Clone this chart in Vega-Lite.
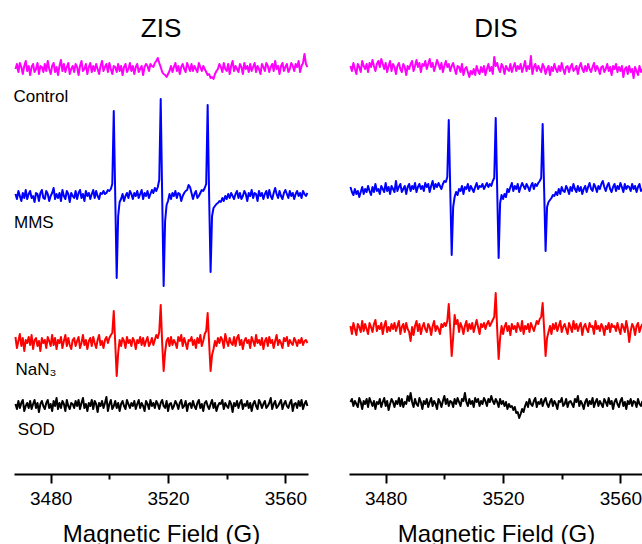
{
"$schema": "https://vega.github.io/schema/vega-lite/v6.json",
"background": "white",
"padding": {"left": 13, "top": 16, "right": 0, "bottom": 0},
"spacing": 40,
"config": {"view": {"stroke": null}, "font": "Liberation Sans",
 "axisX": {"domainColor": "black", "domainWidth": 2, "tickColor": "black", "tickWidth": 2, "grid": false,
  "labelFontSize": 19, "labelColor": "black", "labelFont": "Liberation Sans", "labelPadding": 6, "labelFlush": false, "labelOverlap": false,
  "titleFontSize": 24, "titleFontWeight": "normal", "titleColor": "black", "titleFont": "Liberation Sans", "titlePadding": 14},
 "title": {"fontSize": 26, "fontWeight": "normal", "color": "black", "font": "Liberation Sans", "anchor": "middle", "offset": 4}
},
"datasets": {
"labels": [
{"label":"Control","x":3467.3,"signal":377},
{"label":"MMS","x":3467.5,"signal":251},
{"label":"NaN₃","x":3468,"signal":104},
{"label":"SOD","x":3468.8,"signal":44}
],
"zis": [
{"x":3468,"ctrl":405,"mms":280,"nan3":137,"sod":70},
{"x":3468.5,"ctrl":410,"mms":275,"nan3":126,"sod":65},
{"x":3469,"ctrl":402,"mms":283,"nan3":133,"sod":73},
{"x":3469.5,"ctrl":411,"mms":278,"nan3":140,"sod":66},
{"x":3470,"ctrl":407,"mms":273,"nan3":128,"sod":71},
{"x":3470.5,"ctrl":400,"mms":281,"nan3":136,"sod":74},
{"x":3471,"ctrl":408,"mms":276,"nan3":123,"sod":63},
{"x":3471.5,"ctrl":413,"mms":284,"nan3":134,"sod":68},
{"x":3472,"ctrl":403,"mms":275,"nan3":131,"sod":71},
{"x":3472.5,"ctrl":408,"mms":280,"nan3":137,"sod":66},
{"x":3473,"ctrl":399,"mms":283,"nan3":129,"sod":73},
{"x":3473.5,"ctrl":407,"mms":276,"nan3":139,"sod":65},
{"x":3474,"ctrl":410,"mms":278,"nan3":125,"sod":70},
{"x":3474.5,"ctrl":402,"mms":272,"nan3":134,"sod":74},
{"x":3475,"ctrl":405,"mms":281,"nan3":136,"sod":66},
{"x":3475.5,"ctrl":411,"mms":280,"nan3":128,"sod":71},
{"x":3476,"ctrl":400,"mms":273,"nan3":133,"sod":62},
{"x":3476.5,"ctrl":408,"mms":281,"nan3":123,"sod":70},
{"x":3477,"ctrl":407,"mms":284,"nan3":136,"sod":73},
{"x":3477.5,"ctrl":402,"mms":276,"nan3":131,"sod":68},
{"x":3478,"ctrl":410,"mms":275,"nan3":134,"sod":65},
{"x":3478.5,"ctrl":403,"mms":283,"nan3":126,"sod":71},
{"x":3479,"ctrl":413,"mms":280,"nan3":137,"sod":74},
{"x":3479.5,"ctrl":405,"mms":273,"nan3":133,"sod":66},
{"x":3480,"ctrl":400,"mms":278,"nan3":128,"sod":70},
{"x":3480.5,"ctrl":408,"mms":281,"nan3":139,"sod":63},
{"x":3481,"ctrl":411,"mms":286,"nan3":129,"sod":73},
{"x":3481.5,"ctrl":402,"mms":275,"nan3":136,"sod":68},
{"x":3482,"ctrl":407,"mms":280,"nan3":125,"sod":76},
{"x":3482.5,"ctrl":399,"mms":276,"nan3":134,"sod":65},
{"x":3483,"ctrl":408,"mms":281,"nan3":131,"sod":71},
{"x":3483.5,"ctrl":414,"mms":273,"nan3":137,"sod":66},
{"x":3484,"ctrl":403,"mms":284,"nan3":126,"sod":73},
{"x":3484.5,"ctrl":410,"mms":278,"nan3":133,"sod":70},
{"x":3485,"ctrl":402,"mms":275,"nan3":139,"sod":63},
{"x":3485.5,"ctrl":407,"mms":283,"nan3":128,"sod":74},
{"x":3486,"ctrl":411,"mms":280,"nan3":136,"sod":68},
{"x":3486.5,"ctrl":400,"mms":272,"nan3":129,"sod":65},
{"x":3487,"ctrl":405,"mms":281,"nan3":125,"sod":71},
{"x":3487.5,"ctrl":408,"mms":278,"nan3":134,"sod":70},
{"x":3488,"ctrl":402,"mms":276,"nan3":136,"sod":66},
{"x":3488.5,"ctrl":410,"mms":283,"nan3":128,"sod":73},
{"x":3489,"ctrl":407,"mms":275,"nan3":133,"sod":68},
{"x":3489.5,"ctrl":399,"mms":281,"nan3":137,"sod":74},
{"x":3490,"ctrl":408,"mms":284,"nan3":126,"sod":65},
{"x":3490.5,"ctrl":413,"mms":276,"nan3":131,"sod":71},
{"x":3491,"ctrl":403,"mms":280,"nan3":139,"sod":76},
{"x":3491.5,"ctrl":405,"mms":273,"nan3":129,"sod":66},
{"x":3492,"ctrl":410,"mms":283,"nan3":134,"sod":70},
{"x":3492.5,"ctrl":400,"mms":278,"nan3":125,"sod":63},
{"x":3493,"ctrl":407,"mms":281,"nan3":133,"sod":71},
{"x":3493.5,"ctrl":411,"mms":275,"nan3":136,"sod":68},
{"x":3494,"ctrl":402,"mms":280,"nan3":128,"sod":74},
{"x":3494.5,"ctrl":408,"mms":284,"nan3":137,"sod":65},
{"x":3495,"ctrl":403,"mms":276,"nan3":131,"sod":73},
{"x":3495.5,"ctrl":410,"mms":283,"nan3":126,"sod":70},
{"x":3496,"ctrl":405,"mms":278,"nan3":134,"sod":62},
{"x":3496.5,"ctrl":400,"mms":275,"nan3":139,"sod":71},
{"x":3497,"ctrl":408,"mms":281,"nan3":129,"sod":68},
{"x":3497.5,"ctrl":413,"mms":280,"nan3":133,"sod":73},
{"x":3498,"ctrl":403,"mms":283,"nan3":126,"sod":66},
{"x":3498.5,"ctrl":407,"mms":280,"nan3":134,"sod":71},
{"x":3499,"ctrl":410,"mms":281,"nan3":137,"sod":77},
{"x":3499.5,"ctrl":402,"mms":284,"nan3":131,"sod":63},
{"x":3500,"ctrl":411,"mms":283,"nan3":136,"sod":70},
{"x":3500.5,"ctrl":405,"mms":285,"nan3":139,"sod":74},
{"x":3501,"ctrl":400,"mms":290,"nan3":141,"sod":65},
{"x":3501.5,"ctrl":408,"mms":363,"nan3":163,"sod":68},
{"x":3502,"ctrl":407,"mms":278,"nan3":131,"sod":73},
{"x":3502.5,"ctrl":402,"mms":196,"nan3":98,"sod":66},
{"x":3503,"ctrl":410,"mms":258,"nan3":121,"sod":71},
{"x":3503.5,"ctrl":403,"mms":272,"nan3":134,"sod":63},
{"x":3504,"ctrl":408,"mms":275,"nan3":128,"sod":70},
{"x":3504.5,"ctrl":399,"mms":280,"nan3":136,"sod":73},
{"x":3505,"ctrl":407,"mms":273,"nan3":133,"sod":68},
{"x":3505.5,"ctrl":410,"mms":278,"nan3":126,"sod":65},
{"x":3506,"ctrl":402,"mms":281,"nan3":137,"sod":74},
{"x":3506.5,"ctrl":405,"mms":276,"nan3":131,"sod":70},
{"x":3507,"ctrl":411,"mms":283,"nan3":134,"sod":66},
{"x":3507.5,"ctrl":403,"mms":280,"nan3":128,"sod":71},
{"x":3508,"ctrl":408,"mms":275,"nan3":136,"sod":68},
{"x":3508.5,"ctrl":400,"mms":281,"nan3":133,"sod":73},
{"x":3509,"ctrl":407,"mms":278,"nan3":125,"sod":65},
{"x":3509.5,"ctrl":410,"mms":283,"nan3":134,"sod":70},
{"x":3510,"ctrl":402,"mms":276,"nan3":131,"sod":74},
{"x":3510.5,"ctrl":405,"mms":280,"nan3":137,"sod":66},
{"x":3511,"ctrl":408,"mms":284,"nan3":129,"sod":71},
{"x":3511.5,"ctrl":399,"mms":275,"nan3":136,"sod":68},
{"x":3512,"ctrl":407,"mms":281,"nan3":128,"sod":63},
{"x":3512.5,"ctrl":410,"mms":278,"nan3":133,"sod":73},
{"x":3513,"ctrl":408,"mms":283,"nan3":137,"sod":70},
{"x":3513.5,"ctrl":403,"mms":276,"nan3":128,"sod":65},
{"x":3514,"ctrl":410,"mms":280,"nan3":131,"sod":74},
{"x":3514.5,"ctrl":408,"mms":284,"nan3":136,"sod":68},
{"x":3515,"ctrl":407,"mms":281,"nan3":129,"sod":71},
{"x":3515.5,"ctrl":411,"mms":286,"nan3":134,"sod":66},
{"x":3516,"ctrl":413,"mms":283,"nan3":139,"sod":73},
{"x":3516.5,"ctrl":416,"mms":287,"nan3":136,"sod":70},
{"x":3517,"ctrl":411,"mms":294,"nan3":142,"sod":65},
{"x":3517.5,"ctrl":407,"mms":375,"nan3":169,"sod":71},
{"x":3518,"ctrl":402,"mms":278,"nan3":131,"sod":74},
{"x":3518.5,"ctrl":400,"mms":188,"nan3":103,"sod":68},
{"x":3519,"ctrl":399,"mms":253,"nan3":122,"sod":66},
{"x":3519.5,"ctrl":397,"mms":269,"nan3":133,"sod":73},
{"x":3520,"ctrl":400,"mms":273,"nan3":136,"sod":63},
{"x":3520.5,"ctrl":403,"mms":280,"nan3":128,"sod":70},
{"x":3521,"ctrl":408,"mms":275,"nan3":137,"sod":71},
{"x":3521.5,"ctrl":402,"mms":281,"nan3":129,"sod":65},
{"x":3522,"ctrl":407,"mms":278,"nan3":134,"sod":68},
{"x":3522.5,"ctrl":411,"mms":283,"nan3":131,"sod":73},
{"x":3523,"ctrl":403,"mms":276,"nan3":126,"sod":70},
{"x":3523.5,"ctrl":408,"mms":281,"nan3":137,"sod":65},
{"x":3524,"ctrl":400,"mms":280,"nan3":133,"sod":71},
{"x":3524.5,"ctrl":407,"mms":273,"nan3":139,"sod":74},
{"x":3525,"ctrl":410,"mms":278,"nan3":128,"sod":66},
{"x":3525.5,"ctrl":405,"mms":281,"nan3":136,"sod":68},
{"x":3526,"ctrl":402,"mms":283,"nan3":131,"sod":73},
{"x":3526.5,"ctrl":411,"mms":284,"nan3":125,"sod":63},
{"x":3527,"ctrl":407,"mms":289,"nan3":134,"sod":70},
{"x":3527.5,"ctrl":403,"mms":287,"nan3":133,"sod":71},
{"x":3528,"ctrl":410,"mms":281,"nan3":137,"sod":66},
{"x":3528.5,"ctrl":403,"mms":275,"nan3":129,"sod":73},
{"x":3529,"ctrl":408,"mms":280,"nan3":134,"sod":68},
{"x":3529.5,"ctrl":405,"mms":283,"nan3":126,"sod":65},
{"x":3530,"ctrl":402,"mms":276,"nan3":136,"sod":71},
{"x":3530.5,"ctrl":411,"mms":278,"nan3":131,"sod":74},
{"x":3531,"ctrl":407,"mms":281,"nan3":139,"sod":66},
{"x":3531.5,"ctrl":403,"mms":284,"nan3":128,"sod":70},
{"x":3532,"ctrl":408,"mms":283,"nan3":133,"sod":63},
{"x":3532.5,"ctrl":405,"mms":286,"nan3":140,"sod":71},
{"x":3533,"ctrl":402,"mms":290,"nan3":143,"sod":73},
{"x":3533.5,"ctrl":399,"mms":369,"nan3":161,"sod":68},
{"x":3534,"ctrl":400,"mms":278,"nan3":131,"sod":65},
{"x":3534.5,"ctrl":396,"mms":202,"nan3":103,"sod":70},
{"x":3535,"ctrl":397,"mms":258,"nan3":119,"sod":74},
{"x":3535.5,"ctrl":395,"mms":266,"nan3":125,"sod":66},
{"x":3536,"ctrl":400,"mms":268,"nan3":133,"sod":71},
{"x":3536.5,"ctrl":403,"mms":270,"nan3":128,"sod":63},
{"x":3537,"ctrl":405,"mms":271,"nan3":136,"sod":68},
{"x":3537.5,"ctrl":410,"mms":273,"nan3":131,"sod":71},
{"x":3538,"ctrl":407,"mms":272,"nan3":137,"sod":70},
{"x":3538.5,"ctrl":402,"mms":276,"nan3":134,"sod":74},
{"x":3539,"ctrl":411,"mms":273,"nan3":126,"sod":65},
{"x":3539.5,"ctrl":405,"mms":278,"nan3":140,"sod":71},
{"x":3540,"ctrl":403,"mms":275,"nan3":133,"sod":68},
{"x":3540.5,"ctrl":410,"mms":280,"nan3":128,"sod":66},
{"x":3541,"ctrl":400,"mms":276,"nan3":136,"sod":73},
{"x":3541.5,"ctrl":408,"mms":281,"nan3":131,"sod":70},
{"x":3542,"ctrl":413,"mms":278,"nan3":129,"sod":62},
{"x":3542.5,"ctrl":403,"mms":275,"nan3":137,"sod":71},
{"x":3543,"ctrl":408,"mms":280,"nan3":128,"sod":68},
{"x":3543.5,"ctrl":405,"mms":283,"nan3":136,"sod":73},
{"x":3544,"ctrl":402,"mms":276,"nan3":139,"sod":66},
{"x":3544.5,"ctrl":410,"mms":281,"nan3":129,"sod":71},
{"x":3545,"ctrl":407,"mms":275,"nan3":134,"sod":74},
{"x":3545.5,"ctrl":400,"mms":278,"nan3":125,"sod":65},
{"x":3546,"ctrl":411,"mms":283,"nan3":133,"sod":70},
{"x":3546.5,"ctrl":405,"mms":280,"nan3":136,"sod":68},
{"x":3547,"ctrl":408,"mms":273,"nan3":131,"sod":73},
{"x":3547.5,"ctrl":402,"mms":281,"nan3":134,"sod":66},
{"x":3548,"ctrl":410,"mms":278,"nan3":126,"sod":71},
{"x":3548.5,"ctrl":403,"mms":284,"nan3":137,"sod":63},
{"x":3549,"ctrl":407,"mms":276,"nan3":133,"sod":70},
{"x":3549.5,"ctrl":411,"mms":281,"nan3":128,"sod":73},
{"x":3550,"ctrl":402,"mms":280,"nan3":139,"sod":68},
{"x":3550.5,"ctrl":408,"mms":273,"nan3":131,"sod":65},
{"x":3551,"ctrl":405,"mms":283,"nan3":134,"sod":74},
{"x":3551.5,"ctrl":400,"mms":278,"nan3":129,"sod":71},
{"x":3552,"ctrl":410,"mms":281,"nan3":136,"sod":66},
{"x":3552.5,"ctrl":407,"mms":275,"nan3":125,"sod":70},
{"x":3553,"ctrl":403,"mms":280,"nan3":133,"sod":73},
{"x":3553.5,"ctrl":411,"mms":283,"nan3":136,"sod":66},
{"x":3554,"ctrl":408,"mms":276,"nan3":128,"sod":68},
{"x":3554.5,"ctrl":402,"mms":284,"nan3":137,"sod":71},
{"x":3555,"ctrl":407,"mms":278,"nan3":131,"sod":76},
{"x":3555.5,"ctrl":410,"mms":275,"nan3":134,"sod":65},
{"x":3556,"ctrl":403,"mms":281,"nan3":126,"sod":70},
{"x":3556.5,"ctrl":413,"mms":286,"nan3":133,"sod":73},
{"x":3557,"ctrl":405,"mms":280,"nan3":139,"sod":66},
{"x":3557.5,"ctrl":408,"mms":276,"nan3":129,"sod":68},
{"x":3558,"ctrl":400,"mms":283,"nan3":134,"sod":71},
{"x":3558.5,"ctrl":408,"mms":278,"nan3":131,"sod":74},
{"x":3559,"ctrl":411,"mms":275,"nan3":126,"sod":65},
{"x":3559.5,"ctrl":403,"mms":281,"nan3":136,"sod":70},
{"x":3560,"ctrl":407,"mms":284,"nan3":133,"sod":73},
{"x":3560.5,"ctrl":410,"mms":280,"nan3":137,"sod":68},
{"x":3561,"ctrl":402,"mms":276,"nan3":128,"sod":66},
{"x":3561.5,"ctrl":405,"mms":283,"nan3":134,"sod":71},
{"x":3562,"ctrl":411,"mms":278,"nan3":131,"sod":74},
{"x":3562.5,"ctrl":408,"mms":281,"nan3":129,"sod":63},
{"x":3563,"ctrl":403,"mms":275,"nan3":136,"sod":70},
{"x":3563.5,"ctrl":410,"mms":280,"nan3":133,"sod":71},
{"x":3564,"ctrl":407,"mms":283,"nan3":128,"sod":66},
{"x":3564.5,"ctrl":413,"mms":278,"nan3":134,"sod":73},
{"x":3565,"ctrl":402,"mms":281,"nan3":131,"sod":68},
{"x":3565.5,"ctrl":408,"mms":276,"nan3":136,"sod":74},
{"x":3566,"ctrl":411,"mms":283,"nan3":129,"sod":65},
{"x":3566.5,"ctrl":420,"mms":280,"nan3":133,"sod":70},
{"x":3567,"ctrl":410,"mms":278,"nan3":134,"sod":73},
{"x":3567.5,"ctrl":407,"mms":281,"nan3":131,"sod":68}
],
"dis": [
{"x":3468,"ctrl":408,"mms":287,"nan3":148,"sod":72},
{"x":3468.5,"ctrl":403,"mms":282,"nan3":140,"sod":75},
{"x":3469,"ctrl":411,"mms":279,"nan3":151,"sod":68},
{"x":3469.5,"ctrl":405,"mms":285,"nan3":145,"sod":73},
{"x":3470,"ctrl":400,"mms":280,"nan3":139,"sod":70},
{"x":3470.5,"ctrl":410,"mms":283,"nan3":150,"sod":67},
{"x":3471,"ctrl":407,"mms":277,"nan3":147,"sod":76},
{"x":3471.5,"ctrl":402,"mms":282,"nan3":142,"sod":72},
{"x":3472,"ctrl":413,"mms":287,"nan3":153,"sod":65},
{"x":3472.5,"ctrl":408,"mms":280,"nan3":143,"sod":73},
{"x":3473,"ctrl":405,"mms":285,"nan3":150,"sod":70},
{"x":3473.5,"ctrl":410,"mms":282,"nan3":145,"sod":75},
{"x":3474,"ctrl":402,"mms":288,"nan3":140,"sod":67},
{"x":3474.5,"ctrl":411,"mms":283,"nan3":151,"sod":76},
{"x":3475,"ctrl":407,"mms":279,"nan3":147,"sod":72},
{"x":3475.5,"ctrl":414,"mms":287,"nan3":142,"sod":68},
{"x":3476,"ctrl":408,"mms":282,"nan3":150,"sod":73},
{"x":3476.5,"ctrl":403,"mms":290,"nan3":154,"sod":65},
{"x":3477,"ctrl":410,"mms":283,"nan3":143,"sod":72},
{"x":3477.5,"ctrl":413,"mms":285,"nan3":148,"sod":70},
{"x":3478,"ctrl":407,"mms":280,"nan3":145,"sod":75},
{"x":3478.5,"ctrl":415,"mms":288,"nan3":151,"sod":67},
{"x":3479,"ctrl":410,"mms":285,"nan3":140,"sod":72},
{"x":3479.5,"ctrl":405,"mms":282,"nan3":148,"sod":76},
{"x":3480,"ctrl":411,"mms":291,"nan3":153,"sod":68},
{"x":3480.5,"ctrl":402,"mms":283,"nan3":142,"sod":73},
{"x":3481,"ctrl":408,"mms":287,"nan3":147,"sod":64},
{"x":3481.5,"ctrl":413,"mms":280,"nan3":143,"sod":70},
{"x":3482,"ctrl":403,"mms":288,"nan3":150,"sod":75},
{"x":3482.5,"ctrl":410,"mms":285,"nan3":145,"sod":72},
{"x":3483,"ctrl":407,"mms":282,"nan3":151,"sod":67},
{"x":3483.5,"ctrl":400,"mms":293,"nan3":143,"sod":73},
{"x":3484,"ctrl":408,"mms":283,"nan3":148,"sod":70},
{"x":3484.5,"ctrl":411,"mms":287,"nan3":153,"sod":76},
{"x":3485,"ctrl":405,"mms":290,"nan3":140,"sod":68},
{"x":3485.5,"ctrl":402,"mms":282,"nan3":147,"sod":75},
{"x":3486,"ctrl":410,"mms":285,"nan3":150,"sod":67},
{"x":3486.5,"ctrl":407,"mms":288,"nan3":142,"sod":72},
{"x":3487,"ctrl":399,"mms":280,"nan3":151,"sod":70},
{"x":3487.5,"ctrl":408,"mms":287,"nan3":145,"sod":78},
{"x":3488,"ctrl":405,"mms":290,"nan3":142,"sod":73},
{"x":3488.5,"ctrl":410,"mms":283,"nan3":133,"sod":81},
{"x":3489,"ctrl":413,"mms":288,"nan3":147,"sod":72},
{"x":3489.5,"ctrl":403,"mms":285,"nan3":139,"sod":67},
{"x":3490,"ctrl":408,"mms":291,"nan3":148,"sod":75},
{"x":3490.5,"ctrl":414,"mms":282,"nan3":153,"sod":70},
{"x":3491,"ctrl":407,"mms":287,"nan3":143,"sod":68},
{"x":3491.5,"ctrl":411,"mms":290,"nan3":150,"sod":76},
{"x":3492,"ctrl":402,"mms":285,"nan3":140,"sod":72},
{"x":3492.5,"ctrl":410,"mms":288,"nan3":147,"sod":65},
{"x":3493,"ctrl":408,"mms":283,"nan3":151,"sod":73},
{"x":3493.5,"ctrl":413,"mms":291,"nan3":145,"sod":70},
{"x":3494,"ctrl":405,"mms":287,"nan3":142,"sod":75},
{"x":3494.5,"ctrl":410,"mms":290,"nan3":150,"sod":67},
{"x":3495,"ctrl":415,"mms":282,"nan3":147,"sod":72},
{"x":3495.5,"ctrl":407,"mms":288,"nan3":139,"sod":76},
{"x":3496,"ctrl":411,"mms":293,"nan3":148,"sod":68},
{"x":3496.5,"ctrl":403,"mms":285,"nan3":153,"sod":73},
{"x":3497,"ctrl":408,"mms":290,"nan3":143,"sod":70},
{"x":3497.5,"ctrl":414,"mms":287,"nan3":148,"sod":65},
{"x":3498,"ctrl":410,"mms":291,"nan3":145,"sod":75},
{"x":3498.5,"ctrl":405,"mms":288,"nan3":140,"sod":72},
{"x":3499,"ctrl":411,"mms":285,"nan3":150,"sod":67},
{"x":3499.5,"ctrl":402,"mms":290,"nan3":147,"sod":73},
{"x":3500,"ctrl":408,"mms":293,"nan3":151,"sod":78},
{"x":3500.5,"ctrl":413,"mms":292,"nan3":148,"sod":70},
{"x":3501,"ctrl":407,"mms":297,"nan3":153,"sod":75},
{"x":3501.5,"ctrl":410,"mms":354,"nan3":170,"sod":68},
{"x":3502,"ctrl":403,"mms":285,"nan3":145,"sod":73},
{"x":3502.5,"ctrl":408,"mms":219,"nan3":118,"sod":72},
{"x":3503,"ctrl":411,"mms":267,"nan3":137,"sod":67},
{"x":3503.5,"ctrl":405,"mms":277,"nan3":159,"sod":75},
{"x":3504,"ctrl":400,"mms":282,"nan3":150,"sod":70},
{"x":3504.5,"ctrl":408,"mms":279,"nan3":154,"sod":76},
{"x":3505,"ctrl":407,"mms":285,"nan3":142,"sod":72},
{"x":3505.5,"ctrl":402,"mms":283,"nan3":151,"sod":68},
{"x":3506,"ctrl":410,"mms":288,"nan3":147,"sod":75},
{"x":3506.5,"ctrl":399,"mms":280,"nan3":140,"sod":73},
{"x":3507,"ctrl":405,"mms":287,"nan3":148,"sod":81},
{"x":3507.5,"ctrl":407,"mms":285,"nan3":153,"sod":72},
{"x":3508,"ctrl":402,"mms":290,"nan3":143,"sod":68},
{"x":3508.5,"ctrl":397,"mms":283,"nan3":150,"sod":75},
{"x":3509,"ctrl":403,"mms":288,"nan3":145,"sod":70},
{"x":3509.5,"ctrl":400,"mms":285,"nan3":151,"sod":73},
{"x":3510,"ctrl":405,"mms":282,"nan3":142,"sod":67},
{"x":3510.5,"ctrl":399,"mms":287,"nan3":148,"sod":76},
{"x":3511,"ctrl":408,"mms":291,"nan3":154,"sod":72},
{"x":3511.5,"ctrl":403,"mms":285,"nan3":147,"sod":75},
{"x":3512,"ctrl":400,"mms":288,"nan3":140,"sod":68},
{"x":3512.5,"ctrl":407,"mms":287,"nan3":150,"sod":73},
{"x":3513,"ctrl":402,"mms":290,"nan3":147,"sod":70},
{"x":3513.5,"ctrl":408,"mms":285,"nan3":151,"sod":76},
{"x":3514,"ctrl":399,"mms":288,"nan3":145,"sod":73},
{"x":3514.5,"ctrl":405,"mms":291,"nan3":150,"sod":68},
{"x":3515,"ctrl":410,"mms":287,"nan3":153,"sod":75},
{"x":3515.5,"ctrl":403,"mms":290,"nan3":148,"sod":72},
{"x":3516,"ctrl":407,"mms":288,"nan3":151,"sod":78},
{"x":3516.5,"ctrl":400,"mms":293,"nan3":154,"sod":73},
{"x":3517,"ctrl":417,"mms":296,"nan3":157,"sod":70},
{"x":3517.5,"ctrl":408,"mms":356,"nan3":181,"sod":75},
{"x":3518,"ctrl":411,"mms":285,"nan3":145,"sod":72},
{"x":3518.5,"ctrl":405,"mms":216,"nan3":115,"sod":67},
{"x":3519,"ctrl":402,"mms":271,"nan3":136,"sod":75},
{"x":3519.5,"ctrl":410,"mms":279,"nan3":148,"sod":70},
{"x":3520,"ctrl":407,"mms":275,"nan3":140,"sod":73},
{"x":3520.5,"ctrl":400,"mms":280,"nan3":147,"sod":68},
{"x":3521,"ctrl":408,"mms":277,"nan3":151,"sod":72},
{"x":3521.5,"ctrl":405,"mms":285,"nan3":143,"sod":65},
{"x":3522,"ctrl":403,"mms":282,"nan3":148,"sod":70},
{"x":3522.5,"ctrl":410,"mms":287,"nan3":139,"sod":67},
{"x":3523,"ctrl":402,"mms":291,"nan3":150,"sod":68},
{"x":3523.5,"ctrl":407,"mms":283,"nan3":145,"sod":64},
{"x":3524,"ctrl":411,"mms":288,"nan3":148,"sod":67},
{"x":3524.5,"ctrl":403,"mms":285,"nan3":142,"sod":61},
{"x":3525,"ctrl":408,"mms":290,"nan3":151,"sod":62},
{"x":3525.5,"ctrl":405,"mms":282,"nan3":147,"sod":56},
{"x":3526,"ctrl":410,"mms":287,"nan3":143,"sod":60},
{"x":3526.5,"ctrl":402,"mms":291,"nan3":153,"sod":65},
{"x":3527,"ctrl":407,"mms":288,"nan3":140,"sod":62},
{"x":3527.5,"ctrl":413,"mms":285,"nan3":148,"sod":68},
{"x":3528,"ctrl":403,"mms":290,"nan3":145,"sod":72},
{"x":3528.5,"ctrl":408,"mms":287,"nan3":150,"sod":67},
{"x":3529,"ctrl":405,"mms":283,"nan3":142,"sod":75},
{"x":3529.5,"ctrl":418,"mms":288,"nan3":151,"sod":70},
{"x":3530,"ctrl":400,"mms":291,"nan3":147,"sod":68},
{"x":3530.5,"ctrl":407,"mms":285,"nan3":143,"sod":73},
{"x":3531,"ctrl":410,"mms":290,"nan3":148,"sod":76},
{"x":3531.5,"ctrl":403,"mms":288,"nan3":153,"sod":67},
{"x":3532,"ctrl":408,"mms":291,"nan3":150,"sod":72},
{"x":3532.5,"ctrl":405,"mms":293,"nan3":155,"sod":70},
{"x":3533,"ctrl":402,"mms":296,"nan3":157,"sod":75},
{"x":3533.5,"ctrl":410,"mms":350,"nan3":171,"sod":68},
{"x":3534,"ctrl":407,"mms":285,"nan3":145,"sod":73},
{"x":3534.5,"ctrl":400,"mms":223,"nan3":118,"sod":76},
{"x":3535,"ctrl":405,"mms":267,"nan3":136,"sod":70},
{"x":3535.5,"ctrl":408,"mms":272,"nan3":142,"sod":67},
{"x":3536,"ctrl":399,"mms":274,"nan3":148,"sod":72},
{"x":3536.5,"ctrl":407,"mms":276,"nan3":140,"sod":75},
{"x":3537,"ctrl":403,"mms":279,"nan3":150,"sod":68},
{"x":3537.5,"ctrl":410,"mms":278,"nan3":145,"sod":73},
{"x":3538,"ctrl":405,"mms":282,"nan3":151,"sod":70},
{"x":3538.5,"ctrl":402,"mms":279,"nan3":143,"sod":65},
{"x":3539,"ctrl":408,"mms":285,"nan3":148,"sod":73},
{"x":3539.5,"ctrl":403,"mms":280,"nan3":153,"sod":72},
{"x":3540,"ctrl":411,"mms":287,"nan3":142,"sod":76},
{"x":3540.5,"ctrl":405,"mms":283,"nan3":147,"sod":68},
{"x":3541,"ctrl":400,"mms":282,"nan3":150,"sod":70},
{"x":3541.5,"ctrl":407,"mms":288,"nan3":145,"sod":75},
{"x":3542,"ctrl":408,"mms":285,"nan3":140,"sod":67},
{"x":3542.5,"ctrl":402,"mms":280,"nan3":151,"sod":72},
{"x":3543,"ctrl":407,"mms":287,"nan3":147,"sod":73},
{"x":3543.5,"ctrl":410,"mms":283,"nan3":142,"sod":70},
{"x":3544,"ctrl":403,"mms":290,"nan3":153,"sod":67},
{"x":3544.5,"ctrl":405,"mms":285,"nan3":145,"sod":75},
{"x":3545,"ctrl":408,"mms":282,"nan3":150,"sod":72},
{"x":3545.5,"ctrl":400,"mms":288,"nan3":143,"sod":78},
{"x":3546,"ctrl":407,"mms":283,"nan3":148,"sod":68},
{"x":3546.5,"ctrl":411,"mms":287,"nan3":151,"sod":73},
{"x":3547,"ctrl":405,"mms":280,"nan3":139,"sod":70},
{"x":3547.5,"ctrl":402,"mms":285,"nan3":147,"sod":65},
{"x":3548,"ctrl":408,"mms":288,"nan3":150,"sod":72},
{"x":3548.5,"ctrl":403,"mms":282,"nan3":145,"sod":75},
{"x":3549,"ctrl":410,"mms":287,"nan3":142,"sod":68},
{"x":3549.5,"ctrl":405,"mms":291,"nan3":151,"sod":73},
{"x":3550,"ctrl":402,"mms":285,"nan3":147,"sod":70},
{"x":3550.5,"ctrl":407,"mms":283,"nan3":148,"sod":76},
{"x":3551,"ctrl":411,"mms":290,"nan3":140,"sod":67},
{"x":3551.5,"ctrl":403,"mms":287,"nan3":153,"sod":72},
{"x":3552,"ctrl":408,"mms":282,"nan3":145,"sod":75},
{"x":3552.5,"ctrl":405,"mms":288,"nan3":148,"sod":68},
{"x":3553,"ctrl":400,"mms":285,"nan3":143,"sod":73},
{"x":3553.5,"ctrl":407,"mms":290,"nan3":150,"sod":70},
{"x":3554,"ctrl":408,"mms":293,"nan3":147,"sod":67},
{"x":3554.5,"ctrl":402,"mms":287,"nan3":139,"sod":75},
{"x":3555,"ctrl":405,"mms":283,"nan3":148,"sod":72},
{"x":3555.5,"ctrl":410,"mms":288,"nan3":145,"sod":68},
{"x":3556,"ctrl":403,"mms":291,"nan3":151,"sod":76},
{"x":3556.5,"ctrl":407,"mms":285,"nan3":142,"sod":70},
{"x":3557,"ctrl":399,"mms":282,"nan3":150,"sod":73},
{"x":3557.5,"ctrl":408,"mms":287,"nan3":147,"sod":65},
{"x":3558,"ctrl":405,"mms":290,"nan3":148,"sod":72},
{"x":3558.5,"ctrl":410,"mms":283,"nan3":143,"sod":75},
{"x":3559,"ctrl":402,"mms":288,"nan3":151,"sod":70},
{"x":3559.5,"ctrl":407,"mms":285,"nan3":145,"sod":67},
{"x":3560,"ctrl":403,"mms":291,"nan3":140,"sod":73},
{"x":3560.5,"ctrl":408,"mms":287,"nan3":150,"sod":76},
{"x":3561,"ctrl":397,"mms":282,"nan3":147,"sod":68},
{"x":3561.5,"ctrl":405,"mms":290,"nan3":142,"sod":72},
{"x":3562,"ctrl":407,"mms":285,"nan3":153,"sod":65},
{"x":3562.5,"ctrl":400,"mms":288,"nan3":145,"sod":73},
{"x":3563,"ctrl":408,"mms":287,"nan3":132,"sod":70},
{"x":3563.5,"ctrl":402,"mms":283,"nan3":143,"sod":75},
{"x":3564,"ctrl":405,"mms":290,"nan3":150,"sod":68},
{"x":3564.5,"ctrl":396,"mms":285,"nan3":147,"sod":73},
{"x":3565,"ctrl":407,"mms":288,"nan3":139,"sod":72},
{"x":3565.5,"ctrl":403,"mms":282,"nan3":148,"sod":67},
{"x":3566,"ctrl":399,"mms":287,"nan3":151,"sod":75},
{"x":3566.5,"ctrl":408,"mms":290,"nan3":142,"sod":70},
{"x":3567,"ctrl":402,"mms":283,"nan3":147,"sod":68},
{"x":3567.5,"ctrl":405,"mms":285,"nan3":150,"sod":73}
]
},
"hconcat": [
{
 "width": 294, "height": 428,
 "title": {"text": "ZIS"},
 "encoding": {
  "x": {"field": "x", "type": "quantitative", "title": "Magnetic Field (G)",
   "scale": {"domain": [3467.5, 3567.7], "nice": false, "zero": false},
   "axis": {"values": [3480, 3500, 3520, 3540, 3560], "format": "d",
    "labelExpr": "datum.value % 40 == 0 ? datum.label : ''",
    "tickSize": {"condition": {"test": "datum.value % 40 == 0", "value": 9}, "value": 5}}},
  "y": {"field": "signal", "type": "quantitative", "scale": {"domain": [0, 428], "nice": false, "zero": false}, "axis": null}
 },
 "layer": [
  {"data": {"name": "zis"},
   "transform": [{"fold": ["ctrl", "mms", "nan3", "sod"], "as": ["sample", "signal"]}],
   "mark": {"type": "line", "strokeWidth": 2, "strokeJoin": "round"},
   "encoding": {"color": {"field": "sample", "type": "nominal",
     "scale": {"domain": ["ctrl", "mms", "nan3", "sod"], "range": ["#ff00ff", "#0000ff", "#ff0000", "#000000"]}, "legend": null}}},
  {"data": {"name": "labels"},
   "mark": {"type": "text", "align": "left", "baseline": "middle", "fontSize": 17, "font": "Liberation Sans", "color": "black"},
   "encoding": {"text": {"field": "label"}}}
 ]
},
{
 "width": 294, "height": 428,
 "title": {"text": "DIS"},
 "encoding": {
  "x": {"field": "x", "type": "quantitative", "title": "Magnetic Field (G)",
   "scale": {"domain": [3467.5, 3567.7], "nice": false, "zero": false},
   "axis": {"values": [3480, 3500, 3520, 3540, 3560], "format": "d",
    "labelExpr": "datum.value % 40 == 0 ? datum.label : ''",
    "tickSize": {"condition": {"test": "datum.value % 40 == 0", "value": 9}, "value": 5}}},
  "y": {"field": "signal", "type": "quantitative", "scale": {"domain": [0, 428], "nice": false, "zero": false}, "axis": null}
 },
 "layer": [
  {"data": {"name": "dis"},
   "transform": [{"fold": ["ctrl", "mms", "nan3", "sod"], "as": ["sample", "signal"]}],
   "mark": {"type": "line", "strokeWidth": 2, "strokeJoin": "round"},
   "encoding": {"color": {"field": "sample", "type": "nominal",
     "scale": {"domain": ["ctrl", "mms", "nan3", "sod"], "range": ["#ff00ff", "#0000ff", "#ff0000", "#000000"]}, "legend": null}}}
 ]
}
]
}
